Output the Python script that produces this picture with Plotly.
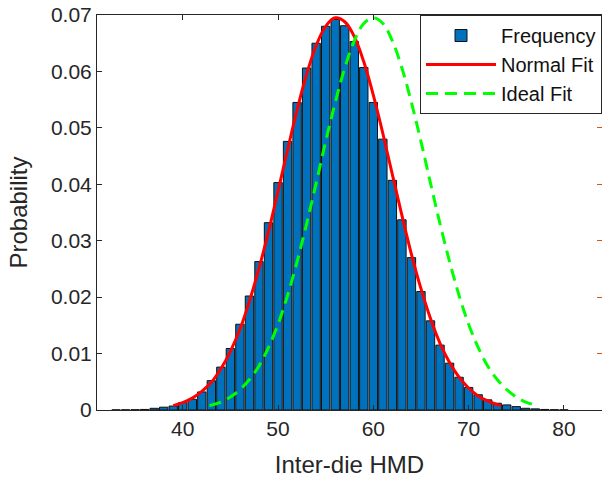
import plotly.graph_objects as go

# Histogram (probability per unit bin)
bin_centers = list(range(33, 81))
bin_prob = [0.00002, 0.00003, 0.00005, 0.0001, 0.0003, 0.0005, 0.0007, 0.0013,
            0.0019, 0.0032, 0.0052, 0.0076, 0.0109, 0.0152, 0.0202, 0.0263,
            0.0332, 0.0403, 0.0476, 0.0545, 0.0606, 0.0650, 0.0680, 0.0692,
            0.0681, 0.0653, 0.0607, 0.0545, 0.0480, 0.0407, 0.0337, 0.0270,
            0.0210, 0.0158, 0.0115, 0.0083, 0.0058, 0.0040, 0.0027, 0.0018,
            0.0012, 0.0009, 0.0006, 0.0003, 0.0002, 0.0001, 0.00005, 0.00003]

# Normal fit curve
normal_x = [39, 40, 41, 42, 43, 44, 45, 46, 47, 48, 49, 50, 51, 52, 53, 54, 55,
            56, 57, 58, 59, 60, 61, 62, 63, 64, 65, 66, 67, 68, 69, 70, 71, 72,
            73, 73.4]
normal_y = [0.00078, 0.0013, 0.0021, 0.0033, 0.0049, 0.0073, 0.0104, 0.0143,
            0.0193, 0.0251, 0.0316, 0.0388, 0.0461, 0.0532, 0.0595, 0.0646,
            0.0680, 0.0695, 0.0688, 0.0662, 0.0617, 0.0558, 0.0490, 0.0417,
            0.0345, 0.0276, 0.0215, 0.0162, 0.0118, 0.0084, 0.0058, 0.0039,
            0.0025, 0.0016, 0.00096, 0.00078]

# Ideal fit curve
ideal_x = [42.8, 44, 45, 46, 47, 48, 49, 50, 51, 52, 53, 54, 55, 56, 57, 58, 59,
           60, 61, 62, 63, 64, 65, 66, 67, 68, 69, 70, 71, 72, 73, 74, 75, 76,
           77.2]
ideal_y = [0.00078, 0.0014, 0.0023, 0.0036, 0.0054, 0.0078, 0.0111, 0.0152,
           0.0203, 0.0263, 0.0330, 0.0402, 0.0476, 0.0545, 0.0606, 0.0654,
           0.0685, 0.0695, 0.0685, 0.0654, 0.0606, 0.0545, 0.0476, 0.0402,
           0.0330, 0.0263, 0.0203, 0.0152, 0.0111, 0.0078, 0.0054, 0.0036,
           0.0023, 0.0014, 0.00078]

x_ticks = [40, 50, 60, 70, 80]
y_ticks = [0, 0.01, 0.02, 0.03, 0.04, 0.05, 0.06, 0.07]
y_tick_text = ["0", "0.01", "0.02", "0.03", "0.04", "0.05", "0.06", "0.07"]

AX = "#262626"
FONT = "Liberation Sans, Arial, Helvetica, sans-serif"

fig = go.Figure()
fig.add_trace(go.Bar(x=bin_centers, y=bin_prob, width=0.88, name="Frequency",
                     marker=dict(color="#0072BD", line=dict(color="#111111", width=1))))
fig.add_trace(go.Scatter(x=normal_x, y=normal_y, mode="lines", name="Normal Fit",
                         line=dict(color="#FF0000", width=3, shape="spline")))
fig.add_trace(go.Scatter(x=ideal_x, y=ideal_y, mode="lines", name="Ideal Fit",
                         yaxis="y2",
                         line=dict(color="#00FF00", width=3, shape="spline", dash="12px,7px")))

fig.update_layout(
    width=602, height=484,
    margin=dict(l=97, r=0, t=15, b=74),
    paper_bgcolor="white", plot_bgcolor="white",
    font=dict(family=FONT, color=AX),
    showlegend=True,
    legend=dict(x=1, y=1, xanchor="right", yanchor="top",
                bgcolor="white", bordercolor=AX, borderwidth=1,
                font=dict(size=20, color="#111111", family=FONT),
                itemwidth=70, tracegroupgap=0),
    xaxis=dict(range=[31, 84], tickvals=x_ticks, ticks="inside", ticklen=5,
               tickcolor=AX, showline=True, linecolor=AX, linewidth=1,
               mirror="ticks", showgrid=False, zeroline=False,
               tickfont=dict(size=21, color=AX),
               title=dict(text="Inter-die HMD", font=dict(size=24, color=AX), standoff=16)),
    yaxis=dict(range=[0, 0.07], tickvals=y_ticks, ticktext=y_tick_text,
               ticks="inside", ticklen=5, tickcolor=AX, showline=True,
               linecolor=AX, linewidth=1, showgrid=False, zeroline=False,
               tickfont=dict(size=21, color=AX),
               title=dict(text="Probability", font=dict(size=24, color=AX), standoff=16)),
    yaxis2=dict(range=[0, 0.07], overlaying="y", side="right",
                tickvals=y_ticks[1:], ticks="inside", ticklen=5,
                tickcolor="#D95319", showticklabels=False, showline=False,
                showgrid=False, zeroline=False),
)

fig.write_html("out.html")
